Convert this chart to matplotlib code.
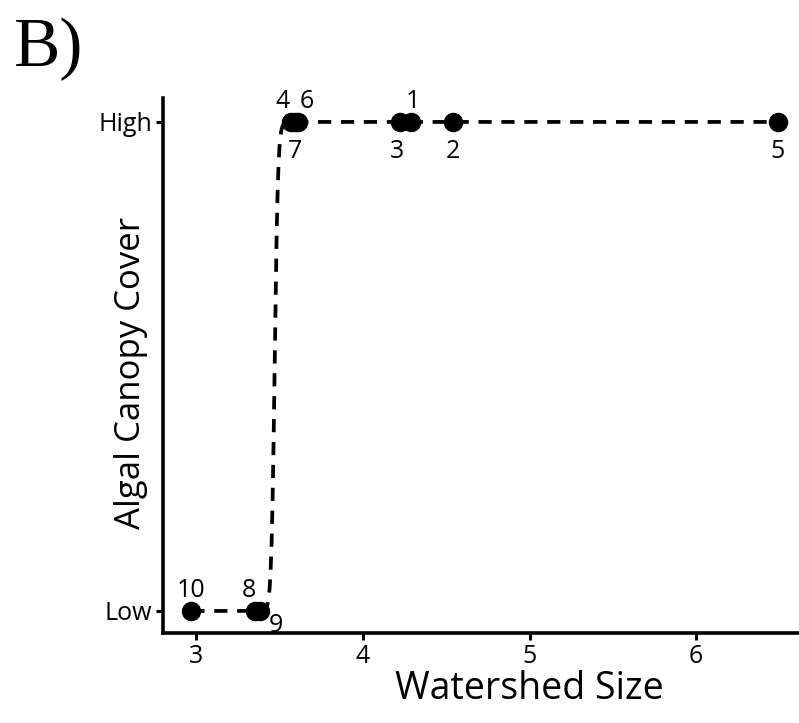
import numpy as np
import matplotlib
matplotlib.use("Agg")
import matplotlib.pyplot as plt

# site data: watershed size vs canopy state (0 = Low, 1 = High)
sites = ['1', '2', '3', '4', '5', '6', '7', '8', '9', '10']
size = [4.29, 4.54, 4.22, 3.57, 6.49, 3.61, 3.59, 3.35, 3.38, 2.97]
cover = [1, 1, 1, 1, 1, 1, 1, 0, 0, 0]

# label offsets (points) from each marker, text placed on baseline
lab_dx = [1.5, 0, -1.5, -6.5, 0, 6.5, 0, -4.3, 12, 0]
lab_dy = [10, -26, -26, 10, -26, 10, -26, 10, -15, 10]

# fitted logistic curve parameters
x0 = 3.47
k = 100.0

plt.rcParams['font.family'] = ['Open Sans', 'DejaVu Sans']
plt.rcParams['lines.scale_dashes'] = False

fig = plt.figure(figsize=(7.99, 7.23), dpi=100)
ax = fig.add_axes([0.204, 0.1245, 0.796, 0.740])

xs = np.linspace(min(size), max(size), 600)
ys = 1.0 / (1.0 + np.exp(-k * (xs - x0)))
ax.plot(xs, ys, color='black', lw=2.7, dashes=(9.5, 7), zorder=1)
ax.plot(size, cover, 'o', color='black', ms=13, zorder=2)

for s, x, y, dx, dy in zip(sites, size, cover, lab_dx, lab_dy):
    ax.annotate(s, (x, y), xytext=(dx, dy), textcoords='offset points',
                ha='center', va='baseline', fontsize=18)

ax.set_xlim(2.80, 6.617)
ax.set_ylim(-0.045, 1.049)
ax.set_xticks([3, 4, 5, 6])
ax.set_yticks([0, 1])
ax.set_yticklabels(['Low', 'High'])
ax.tick_params(labelsize=18, width=2.2, length=5, color='black', pad=3)

for side in ['top', 'right']:
    ax.spines[side].set_visible(False)
for side in ['left', 'bottom']:
    ax.spines[side].set_linewidth(2.6)

fig.text(0.663, 0.033, 'Watershed Size', fontsize=27, ha='center',
         va='baseline')
fig.text(0.175, 0.484, 'Algal Canopy Cover', fontsize=25, rotation=90,
         rotation_mode='anchor', ha='center', va='baseline')

fig.text(0.018, 0.975, 'B)', family='Liberation Serif', fontsize=50,
         ha='left', va='top')

fig.savefig('out.png', dpi=100)
